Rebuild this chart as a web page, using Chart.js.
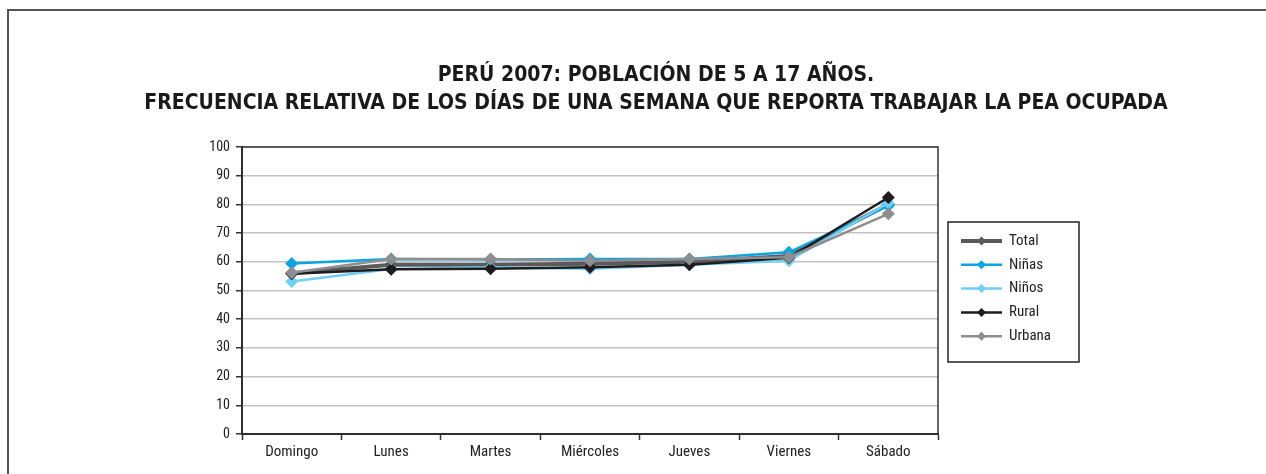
<!DOCTYPE html>
<html>
<head>
<meta charset="utf-8">
<script src="https://cdn.jsdelivr.net/npm/chart.js@4/dist/chart.umd.min.js"></script>
<style>
  html, body { margin: 0; padding: 0; background: #fff; }
  #wrap { position: relative; width: 1266px; height: 474px; }
</style>
</head>
<body>
<div id="wrap"><canvas id="c" width="1266" height="474"></canvas></div>
<script>
const categories = ['Domingo', 'Lunes', 'Martes', 'Miércoles', 'Jueves', 'Viernes', 'Sábado'];
const totalValues  = [56.0, 59.0, 59.0, 59.3, 60.0, 62.0, 80.0];
const ninasValues  = [59.4, 61.0, 60.8, 61.0, 61.0, 63.3, 79.5];
const ninosValues  = [53.1, 57.5, 58.0, 57.6, 59.0, 60.4, 80.5];
const ruralValues  = [55.8, 57.4, 57.6, 58.1, 59.0, 61.4, 82.4];
const urbanaValues = [56.2, 61.0, 61.0, 60.4, 61.0, 61.6, 76.7];
const seriesLabels = ['Total', 'Niñas', 'Niños', 'Rural', 'Urbana'];
const titleLines = ['PERÚ 2007: POBLACIÓN DE 5 A 17 AÑOS.',
  'FRECUENCIA RELATIVA DE LOS DÍAS DE UNA SEMANA QUE REPORTA TRABAJAR LA PEA OCUPADA'];

const TITLE_FONT = "'DejaVu Sans Condensed', 'Roboto Condensed', sans-serif";
const NARROW = "'Roboto Condensed', 'Open Sans Condensed', 'DejaVu Sans Condensed', sans-serif";

function ds(label, data, color, width, order) {
  return {
    label, data,
    borderColor: color, backgroundColor: color,
    borderWidth: width,
    pointStyle: 'rectRot', pointRadius: 6.5, pointHoverRadius: 6.5,
    pointBackgroundColor: color, pointBorderColor: color, pointBorderWidth: 0,
    tension: 0, order
  };
}

const framePlugin = {
  id: 'framePlugin',
  beforeDraw(chart) {
    const ctx = chart.ctx;
    ctx.save();
    ctx.fillStyle = '#fff';
    ctx.fillRect(0, 0, chart.width, chart.height);
    ctx.strokeStyle = '#555';
    ctx.lineWidth = 2;
    ctx.beginPath();
    ctx.moveTo(8, 474);
    ctx.lineTo(8, 10);
    ctx.lineTo(1266, 10);
    ctx.stroke();
    // title
    ctx.fillStyle = '#1a1a1a';
    ctx.font = "bold 21px " + TITLE_FONT;
    ctx.textAlign = 'center';
    ctx.textBaseline = 'middle';
    titleLines.forEach((t, i) => ctx.fillText(t, 656, 76 + i * 28));
    ctx.restore();
  },
  afterDatasetsDraw(chart) {
    const a = chart.chartArea, ctx = chart.ctx;
    ctx.save();
    ctx.strokeStyle = '#333';
    ctx.lineWidth = 1.5;
    ctx.strokeRect(a.left, a.top, a.right - a.left, a.bottom - a.top);
    ctx.restore();
  },
  afterDraw(chart) {
    const a = chart.chartArea, ctx = chart.ctx;
    const bx = a.right + 10, by = 222, bw = 131, bh = 140;
    ctx.save();
    ctx.strokeStyle = '#222';
    ctx.lineWidth = 1.5;
    ctx.strokeRect(bx, by, bw, bh);
    ctx.font = "15px " + NARROW;
    ctx.textBaseline = 'middle';
    chart.data.datasets.forEach((d, i) => {
      const y = by + 19 + i * 23.8;
      const x0 = bx + 13, x1 = bx + 54;
      ctx.strokeStyle = d.borderColor;
      ctx.lineWidth = d.borderWidth;
      ctx.beginPath(); ctx.moveTo(x0, y); ctx.lineTo(x1, y); ctx.stroke();
      const cx = (x0 + x1) / 2, r = 4.5;
      ctx.fillStyle = d.borderColor;
      ctx.beginPath();
      ctx.moveTo(cx, y - r); ctx.lineTo(cx + r, y); ctx.lineTo(cx, y + r); ctx.lineTo(cx - r, y);
      ctx.closePath(); ctx.fill();
      ctx.fillStyle = '#222';
      ctx.fillText(d.label, bx + 61, y);
    });
    ctx.restore();
  }
};

new Chart(document.getElementById('c'), {
  type: 'line',
  data: {
    labels: categories,
    datasets: [
      ds(seriesLabels[0], totalValues,  '#5a5a5c', 4, 5),
      ds(seriesLabels[1], ninasValues,  '#0aa6e2', 2.5, 4),
      ds(seriesLabels[2], ninosValues,  '#6fd0f6', 2.5, 3),
      ds(seriesLabels[3], ruralValues,  '#1e1c1d', 2.5, 2),
      ds(seriesLabels[4], urbanaValues, '#8e8e91', 2.5, 1)
    ]
  },
  plugins: [framePlugin],
  options: {
    responsive: false,
    animation: false,
    events: [],
    layout: { padding: { left: 0, right: 328, top: 147, bottom: 0 } },
    plugins: {
      legend: { display: false },
      tooltip: { enabled: false },
      title: { display: false }
    },
    scales: {
      x: {
        offset: true,
        grid: { offset: true, drawOnChartArea: false, tickLength: 6, tickColor: '#333', tickWidth: 1.5, color: '#333' },
        border: { display: true, color: '#222', width: 2 },
        ticks: { color: '#222', padding: 3, font: { family: NARROW, size: 15 } },
        afterFit(scale) { scale.height = 40; }
      },
      y: {
        min: 0, max: 100,
        grid: { color: '#c3c3c3', lineWidth: 1.5, tickLength: 6, tickColor: '#333', tickWidth: 1.5 },
        border: { display: true, color: '#222', width: 2 },
        ticks: { stepSize: 10, color: '#222', padding: 6, font: { family: NARROW, size: 14 } },
        afterFit(scale) { scale.width = 242; }
      }
    }
  }
});
</script>
</body>
</html>
